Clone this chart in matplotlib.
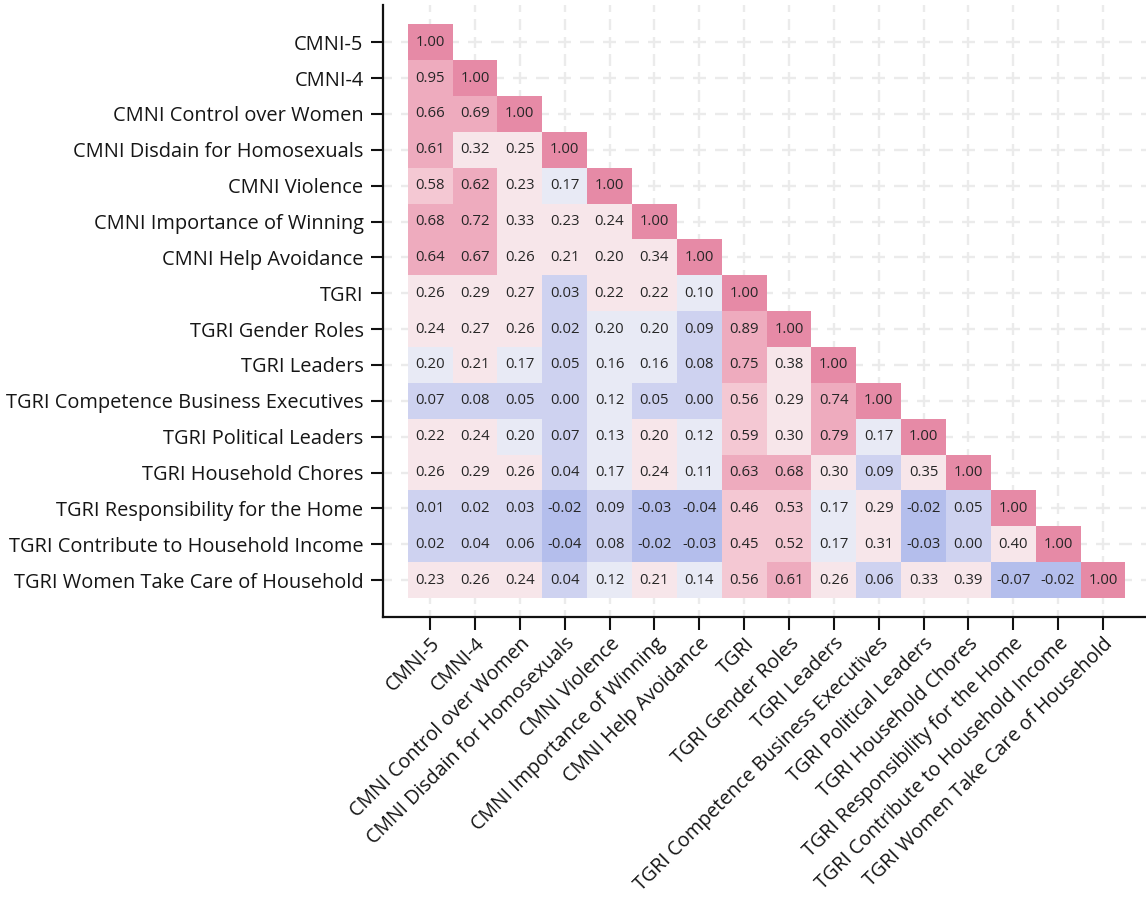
import numpy as np
import matplotlib
matplotlib.use("Agg")
import matplotlib.pyplot as plt
from matplotlib.colors import ListedColormap, BoundaryNorm
from matplotlib.collections import LineCollection

plt.rcParams["font.family"] = ["Open Sans", "DejaVu Sans"]

# Scale names (rows and columns of the correlation matrix)
labels = [
    "CMNI-5",
    "CMNI-4",
    "CMNI Control over Women",
    "CMNI Disdain for Homosexuals",
    "CMNI Violence",
    "CMNI Importance of Winning",
    "CMNI Help Avoidance",
    "TGRI",
    "TGRI Gender Roles",
    "TGRI Leaders",
    "TGRI Competence Business Executives",
    "TGRI Political Leaders",
    "TGRI Household Chores",
    "TGRI Responsibility for the Home",
    "TGRI Contribute to Household Income",
    "TGRI Women Take Care of Household",
]

# Lower-triangle correlations, one list per row
r_cmni5 = [1.00]
r_cmni4 = [0.95, 1.00]
r_control = [0.66, 0.69, 1.00]
r_disdain = [0.61, 0.32, 0.25, 1.00]
r_violence = [0.58, 0.62, 0.23, 0.17, 1.00]
r_winning = [0.68, 0.72, 0.33, 0.23, 0.24, 1.00]
r_help = [0.64, 0.67, 0.26, 0.21, 0.20, 0.34, 1.00]
r_tgri = [0.26, 0.29, 0.27, 0.03, 0.22, 0.22, 0.10, 1.00]
r_gender = [0.24, 0.27, 0.26, 0.02, 0.198, 0.198, 0.09, 0.89, 1.00]
r_leaders = [0.198, 0.21, 0.17, 0.05, 0.16, 0.16, 0.08, 0.75, 0.38, 1.00]
r_business = [0.07, 0.08, 0.05, 0.00, 0.12, 0.05, 0.00, 0.56, 0.29, 0.74, 1.00]
r_political = [0.22, 0.24, 0.198, 0.07, 0.13, 0.20, 0.12, 0.59, 0.30, 0.79, 0.17, 1.00]
r_chores = [0.26, 0.29, 0.26, 0.04, 0.17, 0.24, 0.11, 0.63, 0.68, 0.30, 0.09, 0.35, 1.00]
r_home = [0.01, 0.02, 0.03, -0.02, 0.09, -0.03, -0.04, 0.46, 0.53, 0.17, 0.29, -0.02,
          0.05, 1.00]
r_income = [0.02, 0.04, 0.06, -0.04, 0.08, -0.02, -0.03, 0.45, 0.52, 0.17, 0.31, -0.03,
            0.00, 0.398, 1.00]
r_care = [0.23, 0.26, 0.24, 0.04, 0.12, 0.21, 0.14, 0.56, 0.61, 0.26, 0.06, 0.33, 0.39,
          -0.07, -0.02, 1.00]

rows = [r_cmni5, r_cmni4, r_control, r_disdain, r_violence, r_winning, r_help, r_tgri,
        r_gender, r_leaders, r_business, r_political, r_chores, r_home, r_income, r_care]

n = len(labels)
mat = np.full((n, n), np.nan)
for i, r in enumerate(rows):
    mat[i, :len(r)] = r
masked = np.ma.masked_invalid(mat)

# Binned diverging palette
bin_edges = [-1.0, 0.0, 0.1, 0.2, 0.4, 0.6, 0.995, 1.01]
bin_colors = ["#B4BEEC", "#CED2F0", "#E8EAF5", "#F7E6EA", "#F4C8D3", "#EEABBE", "#E68AA6"]
cmap = ListedColormap(bin_colors)
norm = BoundaryNorm(bin_edges, cmap.N)

fig = plt.figure(figsize=(11.46, 8.97), dpi=100)
ax = fig.add_axes([383 / 1146, 1 - 617 / 897, 1 - 383 / 1146, (617 - 5) / 897])

xlo, xhi = -1.05, 15.96
ylo, yhi = 16.03, -1.04
ax.set_xlim(xlo, xhi)
ax.set_ylim(ylo, yhi)

# Dashed background grid, dashes centred on intersections and midpoints
grid_col = "#EBEBEB"
hsegs = []
for yv in range(n):
    for k in range(-4, 34):
        xc = k / 2
        hsegs.append([(xc - 0.15, yv), (xc + 0.15, yv)])
vsegs = []
for xv in range(n):
    for k in range(-4, 36):
        yc = k / 2
        vsegs.append([(xv, yc - 0.16), (xv, yc + 0.16)])
ax.add_collection(LineCollection(hsegs, colors=grid_col, linewidths=1.7, zorder=0.5))
ax.add_collection(LineCollection(vsegs, colors=grid_col, linewidths=1.7, zorder=0.5))

xs = np.arange(n + 1) - 0.5
ax.pcolormesh(xs, xs, masked, cmap=cmap, norm=norm, zorder=1, edgecolors="none")

for i, r in enumerate(rows):
    for j, v in enumerate(r):
        ax.text(j, i, f"{v:.2f}", ha="center", va="center", fontsize=10.7,
                color="#262626", zorder=2)

ax.set_xticks(range(n))
ax.set_yticks(range(n))
ax.set_yticklabels(labels, fontsize=14.4, color="#151515")
ax.set_xticklabels(labels, fontsize=14.1, color="#151515", rotation=45, ha="right",
                   rotation_mode="anchor")
ax.tick_params(axis="both", direction="out", length=9, width=1.5, color="#111111")
ax.tick_params(axis="y", pad=5)
ax.tick_params(axis="x", pad=3)

for side in ("top", "right"):
    ax.spines[side].set_visible(False)
for side in ("left", "bottom"):
    ax.spines[side].set_linewidth(1.6)
    ax.spines[side].set_color("#111111")

ax.set_facecolor("white")
fig.savefig("out.png", dpi=100, facecolor="white")
